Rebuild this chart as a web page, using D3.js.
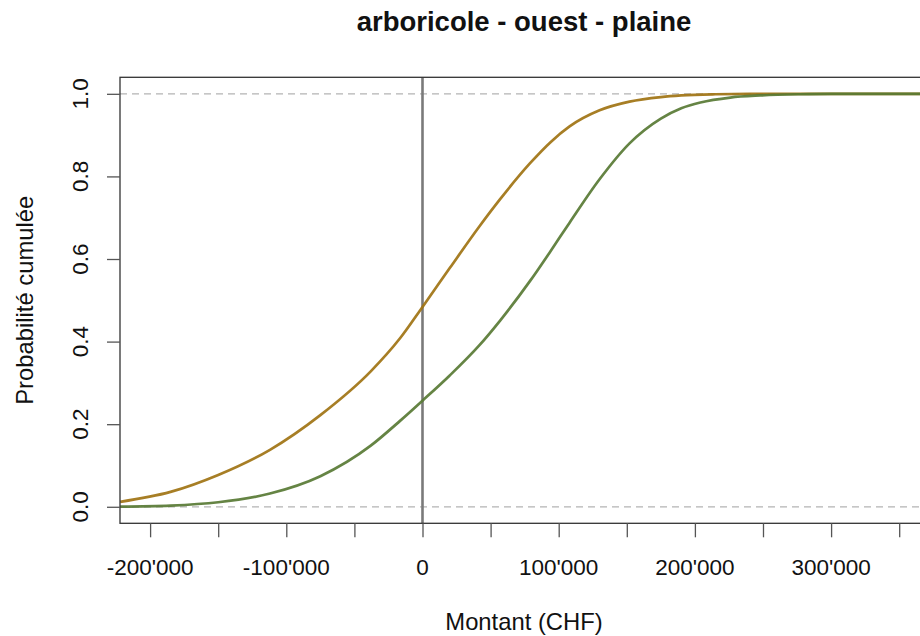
<!DOCTYPE html>
<html>
<head>
<meta charset="utf-8">
<script src="https://cdn.jsdelivr.net/npm/d3@7"></script>
<style>
  html, body { margin: 0; padding: 0; background: #fff; }
  svg { display: block; font-family: "Liberation Sans", Arial, sans-serif; }
</style>
</head>
<body>
<svg id="chart" width="920" height="636"></svg>
<script>
// Cumulative distribution of the amount (CHF), two scenarios
const amountsA = [-222000, -185000, -150000, -112000, -75000, -38000, -16500, 0, 20000, 42000, 57000, 79000, 94000, 108000, 130000, 152000, 175000, 190000, 215000, 240000, 380000];
const probsA   = [0.012, 0.036, 0.077, 0.138, 0.222, 0.328, 0.408, 0.484, 0.578, 0.680, 0.745, 0.832, 0.883, 0.921, 0.960, 0.981, 0.992, 0.996, 0.999, 1.0, 1.0];

const amountsB = [-222000, -185000, -150000, -112000, -75000, -38000, -16500, 0, 20000, 42000, 57000, 79000, 94000, 108000, 130000, 152000, 175000, 190000, 204000, 226000, 248000, 277000, 300000, 380000];
const probsB   = [0.0005, 0.003, 0.011, 0.032, 0.074, 0.148, 0.208, 0.257, 0.318, 0.392, 0.451, 0.547, 0.619, 0.688, 0.793, 0.880, 0.940, 0.965, 0.979, 0.991, 0.996, 0.999, 1.0, 1.0];

const xTickValues  = [-200000, -150000, -100000, -50000, 0, 50000, 100000, 150000, 200000, 250000, 300000, 350000];
const xLabelValues = [-200000, -100000, 0, 100000, 200000, 300000];
const yTickValues  = [0, 0.2, 0.4, 0.6, 0.8, 1.0];
const refLevels    = [0, 1];

const titleText = "arboricole - ouest - plaine";
const xTitle = "Montant (CHF)";
const yTitle = "Probabilité cumulée";

const colorA = "#A07312";
const colorB = "#587A34";

const svg = d3.select("#chart");
const plot = { left: 120, right: 928, top: 77.3, bottom: 523.3 };

const x = d3.scaleLinear().domain([-222100, 371150]).range([plot.left, plot.right]);
const y = d3.scaleLinear().domain([-0.04, 1.04]).range([plot.bottom, plot.top]);

const swiss = d3.formatLocale({ decimal: ".", thousands: "'", grouping: [3], currency: ["", ""], minus: "-" });
const fmtX = swiss.format(",d");
const fmtY = d3.format(".1f");

svg.append("defs").append("clipPath").attr("id", "plotClip")
  .append("rect")
  .attr("x", plot.left).attr("y", plot.top)
  .attr("width", plot.right - plot.left).attr("height", plot.bottom - plot.top);

const inner = svg.append("g").attr("clip-path", "url(#plotClip)");

// dashed reference levels at 0 and 1
inner.selectAll("line.ref").data(refLevels).join("line")
  .attr("class", "ref")
  .attr("x1", plot.left).attr("x2", plot.right)
  .attr("y1", d => y(d)).attr("y2", d => y(d))
  .attr("stroke", "#b4b4b4").attr("stroke-width", 1.3)
  .attr("stroke-dasharray", "7,5");

// vertical line at zero
inner.append("line")
  .attr("x1", x(0)).attr("x2", x(0))
  .attr("y1", plot.top).attr("y2", plot.bottom)
  .attr("stroke", "#7a7a7a").attr("stroke-width", 2.6);

const line = d3.line()
  .x(d => x(d[0]))
  .y(d => y(d[1]))
  .curve(d3.curveMonotoneX);

const series = [
  { pts: d3.zip(amountsA, probsA), color: colorA },
  { pts: d3.zip(amountsB, probsB), color: colorB }
];

inner.selectAll("path.cdf").data(series).join("path")
  .attr("class", "cdf")
  .attr("d", d => line(d.pts))
  .attr("fill", "none")
  .attr("stroke", d => d.color)
  .attr("stroke-opacity", 0.92)
  .attr("stroke-width", 2.7)
  .attr("stroke-linejoin", "round");

// plot frame
svg.append("rect")
  .attr("x", plot.left).attr("y", plot.top)
  .attr("width", plot.right - plot.left).attr("height", plot.bottom - plot.top)
  .attr("fill", "none").attr("stroke", "#333").attr("stroke-width", 1.3);

// x axis ticks
const xAxis = svg.append("g")
  .attr("transform", `translate(0,${plot.bottom})`)
  .call(d3.axisBottom(x).tickValues(xTickValues).tickSize(14).tickFormat(""));
xAxis.select(".domain").remove();
xAxis.selectAll(".tick line").attr("stroke", "#555").attr("stroke-width", 1.3);

svg.append("g").selectAll("text").data(xLabelValues).join("text")
  .attr("x", d => x(d)).attr("y", 575)
  .attr("text-anchor", "middle")
  .attr("font-size", 22.5).attr("fill", "#111")
  .text(d => fmtX(d));

// y axis ticks
const yAxis = svg.append("g")
  .attr("transform", `translate(${plot.left},0)`)
  .call(d3.axisLeft(y).tickValues(yTickValues).tickSize(13).tickFormat(""));
yAxis.select(".domain").remove();
yAxis.selectAll(".tick line").attr("stroke", "#555").attr("stroke-width", 1.3);

svg.append("g").selectAll("text").data(yTickValues).join("text")
  .attr("transform", d => `translate(88,${y(d)}) rotate(-90)`)
  .attr("text-anchor", "middle")
  .attr("font-size", 22.5).attr("fill", "#111")
  .text(d => fmtY(d));

// titles
svg.append("text")
  .attr("x", (plot.left + plot.right) / 2).attr("y", 31)
  .attr("text-anchor", "middle")
  .attr("font-size", 27.5).attr("font-weight", "bold").attr("fill", "#111")
  .text(titleText);

svg.append("text")
  .attr("x", (plot.left + plot.right) / 2).attr("y", 630)
  .attr("text-anchor", "middle")
  .attr("font-size", 23.8).attr("fill", "#111")
  .text(xTitle);

svg.append("text")
  .attr("transform", `translate(33,${(plot.top + plot.bottom) / 2}) rotate(-90)`)
  .attr("text-anchor", "middle")
  .attr("font-size", 23.8).attr("fill", "#111")
  .text(yTitle);
</script>
</body>
</html>
